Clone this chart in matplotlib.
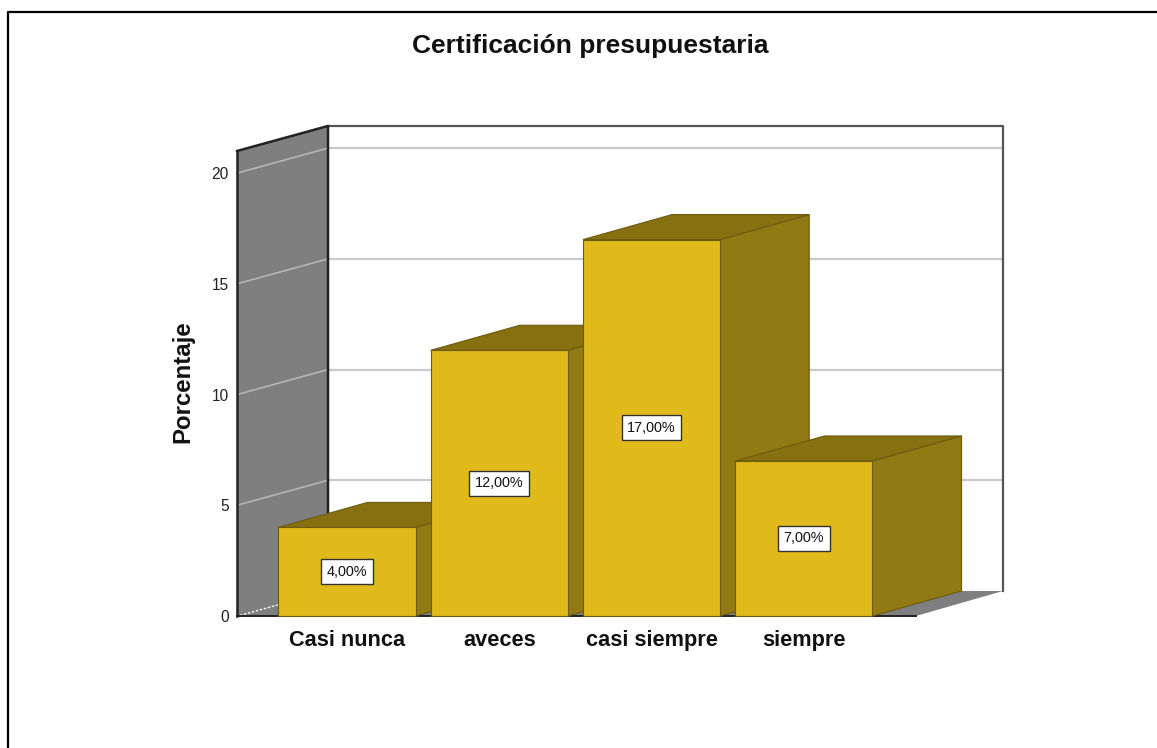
"""
Certificación presupuestaria: barras con efecto 3D
"""
import matplotlib
matplotlib.use("Agg")
import matplotlib.pyplot as plt
from matplotlib.lines import Line2D
from matplotlib.patches import Polygon

plt.rcParams['font.family'] = ['Liberation Sans', 'DejaVu Sans']

# ── datos ──
categories = ['Casi nunca', 'aveces', 'casi siempre', 'siempre']
values = [4, 12, 17, 7]
y_ticks = [0, 5, 10, 15, 20]

# ── estilo ──
C_FRONT = '#e0ba1a'
C_TOP = '#87700f'
C_SIDE = '#917a14'
C_EDGE = '#6b5a10'
C_WALL = '#7f7f7f'
C_GRID = '#c9c9c9'
C_DARK = '#222222'

W, H = 1157, 748
x_min, x_max = -0.722, 3.736
y_max = 21
dx, dy = 0.5975, 1.13  # desplazamiento de profundidad
bar_dx = 0.585
wall_right = 4.307
bar_w = 0.9

fig = plt.figure(figsize=(W / 100, H / 100), dpi=100)
ax = fig.add_axes([237 / W, (H - 616) / H, (916 - 237) / W, 465 / H])
ax.set_xlim(x_min, x_max)
ax.set_ylim(0, y_max)


def poly(pts, fc, ec='none', lw=0.8, z=2):
    ax.add_patch(Polygon(pts, closed=True, fc=fc, ec=ec, lw=lw, zorder=z, clip_on=False))


# pared trasera y suelo
ax.plot([x_min + dx, wall_right, wall_right], [y_max + dy, y_max + dy, dy],
        color='#555555', lw=1.6, zorder=1.5, clip_on=False)
poly([(x_min, 0), (x_min + dx, dy), (wall_right, dy), (x_max, 0)], C_WALL, z=1)
poly([(x_min, 0), (x_min + dx, dy), (x_min + dx, y_max + dy), (x_min, y_max)], C_WALL, z=1.2)
ax.plot([x_min, x_min + dx, x_min + dx], [y_max, y_max + dy, dy],
        color=C_DARK, lw=1.8, zorder=1.6, clip_on=False)
ax.plot([x_min + 0.02, x_min + 0.27], [0.03, 0.5], color='white', lw=1.0,
        ls=(0, (1.5, 1.5)), zorder=1.7, clip_on=False)

# líneas de rejilla
for t in y_ticks[1:]:
    ax.plot([x_min, x_min + dx], [t, t + dy], color='#b5b5b5', lw=1.2, zorder=1.3, clip_on=False)
    ax.plot([x_min + dx, wall_right], [t + dy, t + dy], color=C_GRID, lw=1.6, zorder=1.3, clip_on=False)

# barras
for i, v in enumerate(values):
    x0, x1 = i - bar_w / 2, i + bar_w / 2
    z = 3 + i
    poly([(x1, 0), (x1 + bar_dx, dy), (x1 + bar_dx, v + dy), (x1, v)], C_SIDE, C_EDGE, z=z)
    poly([(x0, v), (x0 + bar_dx, v + dy), (x1 + bar_dx, v + dy), (x1, v)], C_TOP, C_EDGE, z=z)
    poly([(x0, 0), (x1, 0), (x1, v), (x0, v)], C_FRONT, C_EDGE, z=z + 0.1)
    ax.text(i, v / 2, f'{v},00%', ha='center', va='center', fontsize=10.4, color='#111111',
            zorder=10, bbox=dict(boxstyle='square,pad=0.38', fc='white', ec='#333333', lw=1.0))

# ejes
for s in ('top', 'right'):
    ax.spines[s].set_visible(False)
ax.spines['left'].set_color(C_DARK)
ax.spines['left'].set_linewidth(1.8)
ax.spines['bottom'].set_color(C_DARK)
ax.spines['bottom'].set_linewidth(1.4)
ax.spines['left'].set_zorder(2)
ax.spines['bottom'].set_zorder(2)
ax.patch.set_visible(False)
ax.set_yticks(y_ticks)
ax.set_xticks(range(len(categories)))
ax.set_xticklabels(categories, fontsize=15.7, fontweight='bold', color='#111111')
ax.tick_params(axis='x', length=0, pad=10)
ax.tick_params(axis='y', length=0, pad=6, labelsize=11.2, labelcolor='#222222')
ax.set_ylabel('Porcentaje', fontsize=17.3, fontweight='bold', color='#111111')
ax.yaxis.set_label_coords((194 - 237) / (916 - 237), (616 - 382) / 465)

fig.text(590 / W, 1 - 46 / H, 'Certificación presupuestaria', ha='center', va='center',
         fontsize=19, fontweight='bold', color='#111111')

# marco exterior
fig.add_artist(Line2D([8 / W, 8 / W, 1], [0, 1 - 12 / H, 1 - 12 / H], color='black', lw=1.6))

fig.savefig('out.png', dpi=100)
